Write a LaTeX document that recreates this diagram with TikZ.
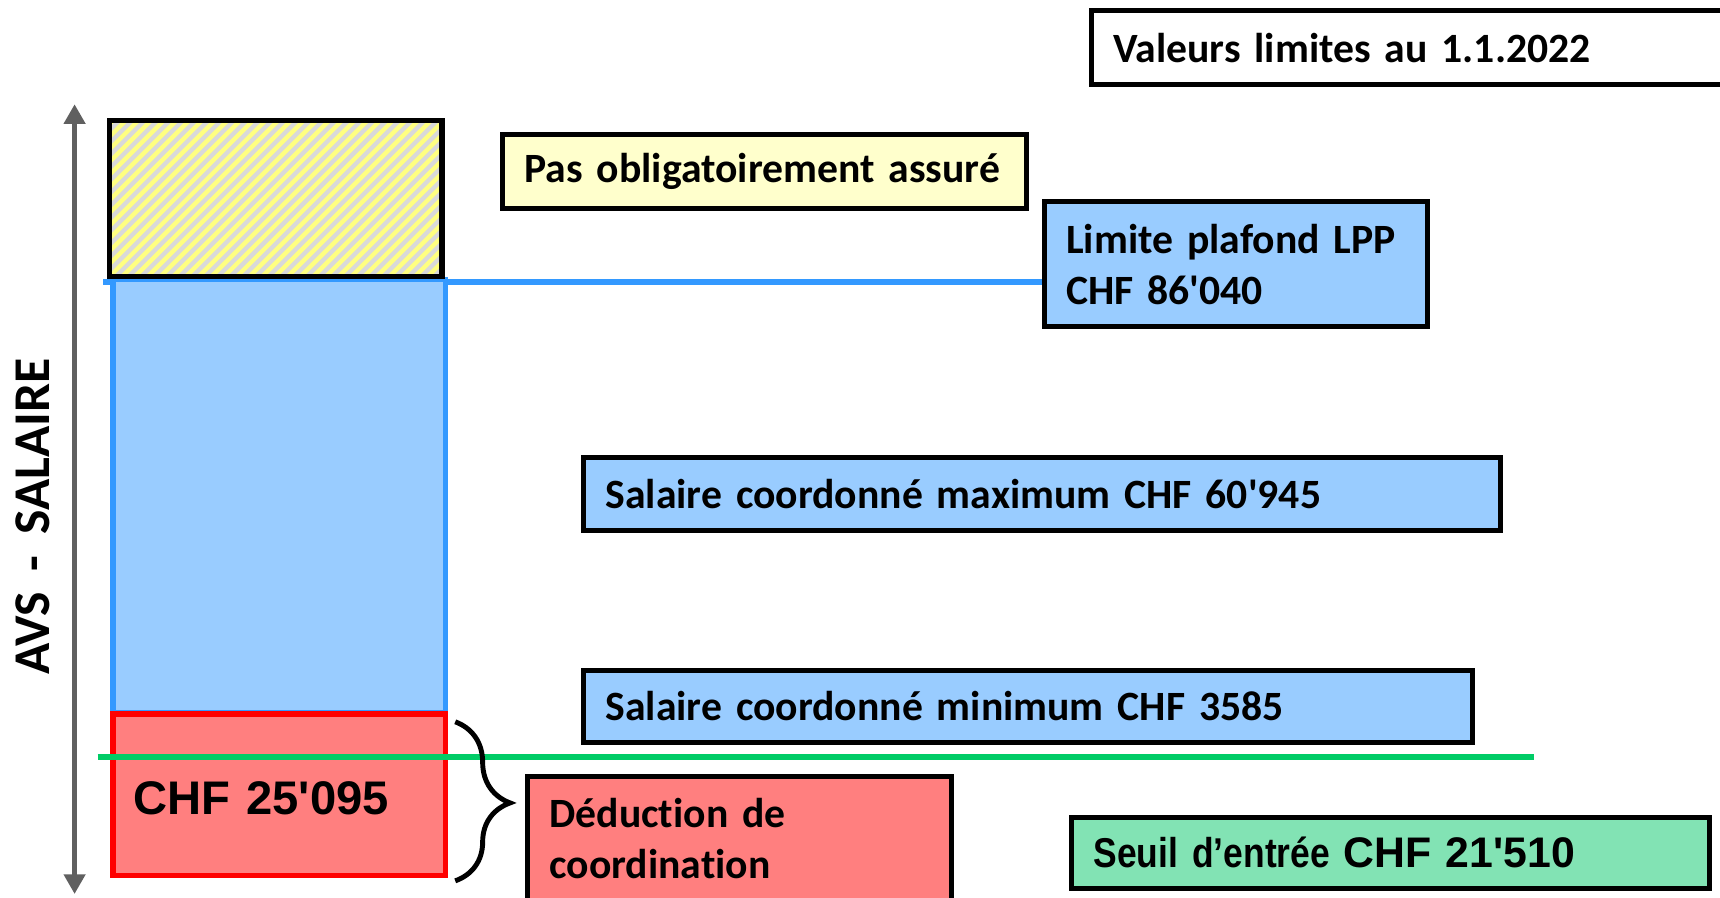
\documentclass[tikz,border=0pt]{standalone}
\usepackage{fontspec}
\setmainfont{Carlito}[Ligatures={TeX,NoCommon}]
\newfontfamily\arial{Liberation Sans}
\newfontfamily\arialn[FakeStretch=0.85]{Liberation Sans}
\usetikzlibrary{arrows.meta,decorations.pathreplacing}
\definecolor{lblue}{HTML}{99CCFF}
\definecolor{dblue}{HTML}{3399FF}
\definecolor{lred}{HTML}{FF7F7F}
\definecolor{sred}{HTML}{FF0000}
\definecolor{gline}{HTML}{00CC66}
\definecolor{lgreen}{HTML}{82E3B4}
\definecolor{lyellow}{HTML}{FFFFCC}
\definecolor{hgray}{HTML}{D9D9D9}
\definecolor{hyellow}{HTML}{FFFF80}
\definecolor{agray}{HTML}{606060}
\newcommand{\apos}{\textquotesingle}
\begin{document}
\begin{tikzpicture}[x=1pt,y=-1pt,
  cal/.style={font=\bfseries\fontsize{38}{47}\selectfont},
  infobox/.style={draw=black, line width=4.5pt, inner xsep=20pt, inner ysep=0pt, align=left, cal},
  bar/.style={line width=4.8pt, inner sep=0pt}
]
\useasboundingbox (0,0) rectangle (1568,818);
\clip (0,0) rectangle (1568,818);

% blue line to LPP box (drawn first)
\node[infobox, fill=lblue, minimum width=349pt, minimum height=114pt, text width=309pt] (lpp) at (1126.5,241) {Limite plafond LPP\\CHF 86\apos 040};
\coordinate (bl) at (94,257);
\draw[dblue, line width=5pt] (bl) -- (bl -| lpp.west);

% bars
\node[bar, draw=dblue, fill=lblue, minimum width=303pt, minimum height=395pt] (blue) at (254.5,452.5) {};
\node[bar, draw=black, line width=5pt, fill=hgray, minimum width=303pt, minimum height=142pt,
  path picture={\foreach \i in {-14,...,28}
     \draw[hyellow, line width=4pt] ([xshift=\i*11.6pt]path picture bounding box.south west) -- ++(160,-160);}
  ] (hatch) at (251.5,181) {};
\node[bar, draw=sred, fill=lred, minimum width=303pt, minimum height=147pt, text width=265pt, inner xsep=19pt, align=left,
  text height=36pt, text depth=0pt,
  font=\arial\bfseries\fontsize{43}{50}\selectfont] (red) at (254.5,724.5) {CHF 25'095};

% green line
\coordinate (g1) at (89,690);
\coordinate (g2) at (1398,690);
\draw[gline, line width=4.8pt] (g1) -- (g2);

% axis arrow
\coordinate (abot) at (68,815);
\coordinate (atop) at (68,95);
\draw[agray, line width=5pt, {Triangle[length=18pt,width=19pt]}-{Triangle[length=18pt,width=19pt]}] (abot) -- (atop);
\node[rotate=90, font=\bfseries\fontsize{47}{54}\selectfont] (avs) at (30,471) {AVS\hspace{19pt}-\hspace{19pt}SALAIRE};

% brace
\coordinate (b1) at (415,658);
\coordinate (b2) at (415,803);
\draw[line width=4.5pt, decorate, decoration={brace, amplitude=50pt, aspect=0.51}] (b1) -- (b2);

% boxes
\node[infobox, fill=lyellow, minimum width=478pt, minimum height=67pt, text width=438pt] (pas) at (697,156.5) {Pas obligatoirement assuré};
\node[infobox, fill=lblue, minimum width=836pt, minimum height=67pt, text width=796pt] (max) at (950,450.5) {Salaire coordonné maximum CHF 60\apos 945};
\node[infobox, fill=lblue, minimum width=810pt, minimum height=66pt, text width=770pt] (min) at (937,644) {Salaire coordonné minimum CHF 3585};
\node[infobox, fill=lred, minimum width=386pt, minimum height=113pt, text width=346pt] (ded) at (674,764.5) {Déduction de\\coordination};
\node[infobox, fill=lgreen, minimum width=581pt, minimum height=65pt, text width=541pt] (seuil) at (1267.5,777.5)
  {{\arialn\bfseries\fontsize{38}{47}\selectfont Seuil d’entrée} {\arial\bfseries\fontsize{39}{47}\selectfont CHF 21'510}};
\node[infobox, fill=white, minimum width=585pt, minimum height=67pt, text width=545pt] (val) at (1287.5,43.5) {Valeurs limites au 1.1.2022};
\end{tikzpicture}
\end{document}
